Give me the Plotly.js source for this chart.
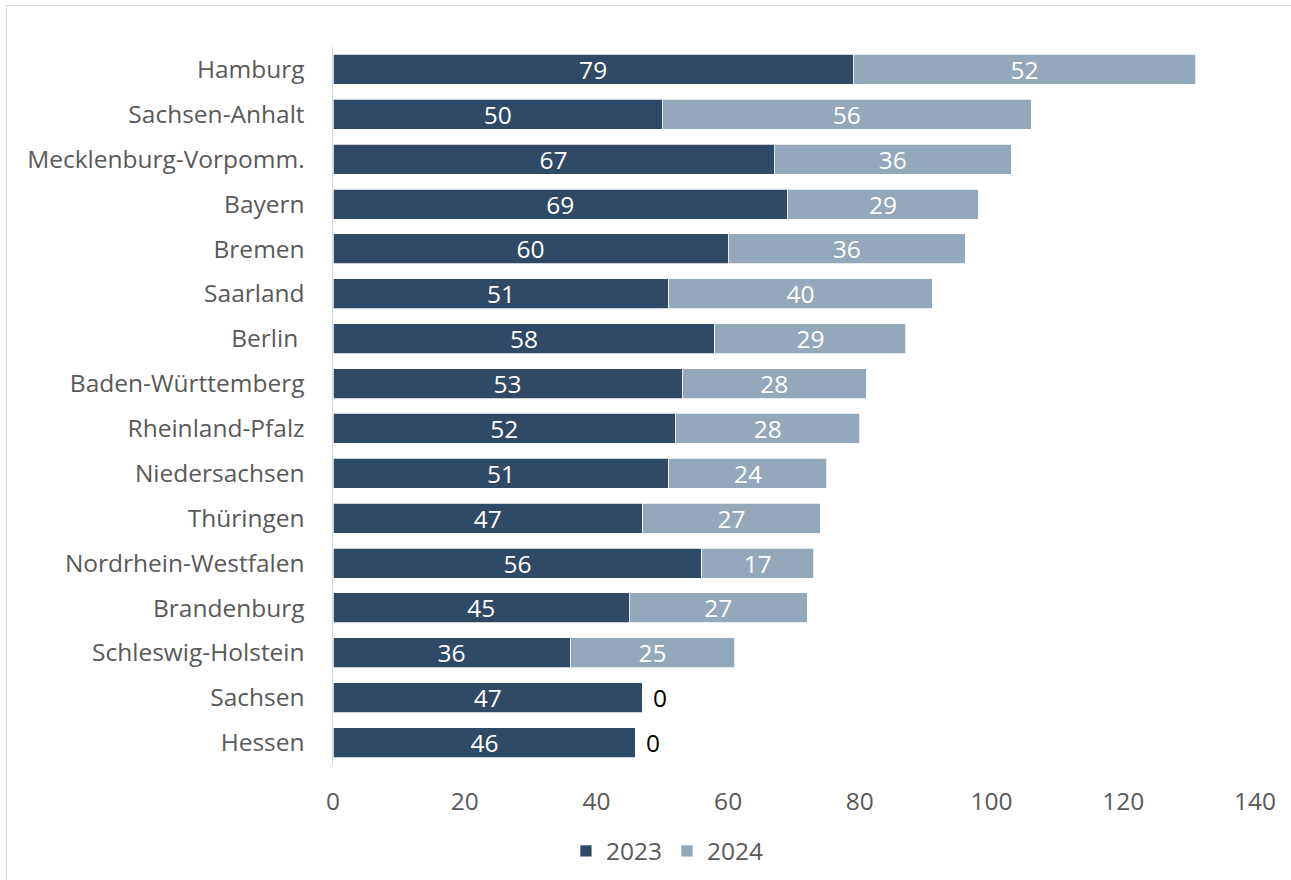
<!DOCTYPE html>
<html>
<head>
<meta charset="utf-8">
<script src="https://cdn.plot.ly/plotly-3.0.1.min.js"></script>
<style>
  html, body { margin: 0; padding: 0; background: #ffffff; }
  #wrap { position: relative; width: 1291px; height: 880px; overflow: hidden; }
  #chart { position: absolute; left: 0; top: 0; width: 1291px; height: 880px; }
  #frame { position: absolute; left: 6px; top: 5px; width: 1300px; height: 900px;
           border-top: 1.5px solid #d9d9d9; border-left: 1.5px solid #d9d9d9; pointer-events: none; }
</style>
</head>
<body>
<div id="wrap">
  <div id="chart"></div>
  <div id="frame"></div>
</div>
<script>
const categories = ["Hamburg", "Sachsen-Anhalt", "Mecklenburg-Vorpomm.", "Bayern", "Bremen", "Saarland", "Berlin ", "Baden-Württemberg", "Rheinland-Pfalz", "Niedersachsen", "Thüringen", "Nordrhein-Westfalen", "Brandenburg", "Schleswig-Holstein", "Sachsen", "Hessen"];
const values2023 = [79, 50, 67, 69, 60, 51, 58, 53, 52, 51, 47, 56, 45, 36, 47, 46];
const values2024 = [52, 56, 36, 29, 36, 40, 29, 28, 28, 24, 27, 17, 27, 25, 0, 0];
const seriesNames = ["2023", "2024"];
const xTicks = [0, 20, 40, 60, 80, 100, 120, 140];

const FONT = "'Open Sans', 'Noto Sans', sans-serif";
const FS = 24.5;
const colDark = "#2e4a66";
const colLight = "#94a8bc";

const trace2023 = {
  type: "bar", orientation: "h", name: seriesNames[0],
  y: categories, x: values2023,
  marker: { color: colDark, line: { color: "#ffffff", width: 0.75 } },
  text: values2023.map(String), textposition: "inside", insidetextanchor: "middle",
  textangle: 0, constraintext: "none",
  textfont: { family: FONT, size: FS, color: "#ffffff" },
  hoverinfo: "skip"
};
const trace2024 = {
  type: "bar", orientation: "h", name: seriesNames[1],
  y: categories, x: values2024,
  marker: { color: colLight, line: { color: "#ffffff", width: 0.75 } },
  text: values2024.map(v => v === 0 ? "" : String(v)), textposition: "inside", insidetextanchor: "middle",
  textangle: 0, constraintext: "none",
  textfont: { family: FONT, size: FS, color: "#ffffff" },
  hoverinfo: "skip"
};

const zeroAnnotations = [];
values2024.forEach((v, i) => {
  if (v === 0) {
    zeroAnnotations.push({
      x: values2023[i] + v, y: categories[i], xref: "x", yref: "y",
      text: String(v), showarrow: false, xanchor: "left", xshift: 8,
      font: { family: FONT, size: FS, color: "#000000" }
    });
  }
});

const layout = {
  width: 1291, height: 880,
  margin: { l: 333, r: 36, t: 47, b: 115 },
  paper_bgcolor: "#ffffff", plot_bgcolor: "#ffffff",
  barmode: "stack", bargap: 0.33,
  font: { family: FONT, size: FS, color: "#595959" },
  showlegend: true,
  legend: {
    orientation: "h", xref: "container", yref: "container",
    x: 0.517, xanchor: "center", y: 0.033, yanchor: "middle",
    font: { family: FONT, size: FS, color: "#595959" },
    traceorder: "normal", itemwidth: 30
  },
  xaxis: {
    range: [0, 140], tickvals: xTicks, ticktext: xTicks.map(String),
    showgrid: false, zeroline: false, showline: false,
    ticks: "", ticklabelstandoff: 19,
    tickfont: { family: FONT, size: FS, color: "#595959" },
    fixedrange: true
  },
  yaxis: {
    autorange: "reversed", type: "category",
    showgrid: false, zeroline: false,
    showline: true, linecolor: "#d9d9d9", linewidth: 1.5,
    ticks: "", ticklabelstandoff: 22,
    tickfont: { family: FONT, size: FS, color: "#595959" },
    fixedrange: true
  },
  annotations: zeroAnnotations
};

Plotly.newPlot("chart", [trace2023, trace2024], layout, { displayModeBar: false, staticPlot: true });
</script>
</body>
</html>
